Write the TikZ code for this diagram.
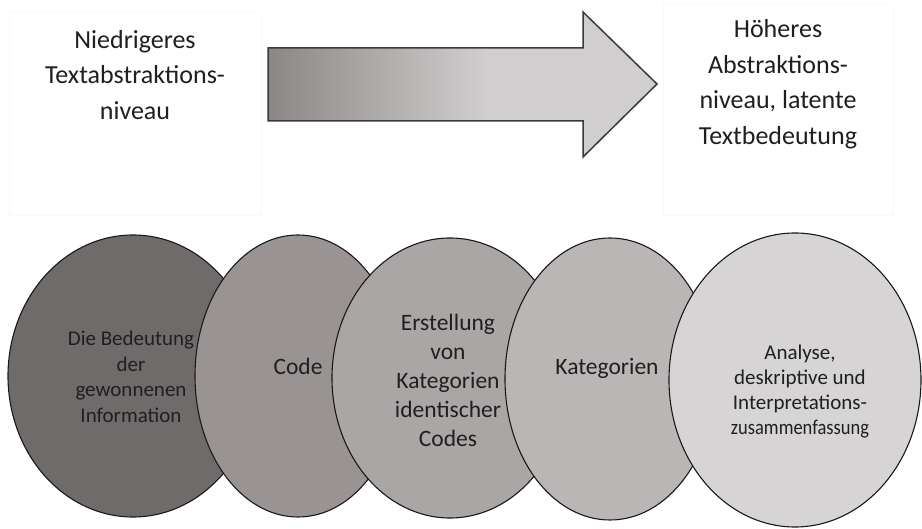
\documentclass[tikz,border=0pt]{standalone}
\usepackage{fontspec}
\setmainfont{Carlito}
\usetikzlibrary{shapes.geometric}

\definecolor{stageA}{HTML}{6F6B6B}
\definecolor{stageB}{HTML}{999493}
\definecolor{stageC}{HTML}{AAA6A5}
\definecolor{stageD}{HTML}{BAB6B6}
\definecolor{stageE}{HTML}{D6D4D5}
\definecolor{arrowdark}{HTML}{8C8787}
\definecolor{arrowlight}{HTML}{D0CECE}
\definecolor{arrowedge}{HTML}{3C3A3A}

\pgfdeclarehorizontalshading{arrowshade}{100bp}{color(0bp)=(arrowdark); color(25bp)=(arrowdark); color(53bp)=(arrowlight); color(100bp)=(arrowlight)}

\begin{document}
\begin{tikzpicture}[x=1pt,y=-1pt,
    sidebox/.style={draw=black!2.5,line width=0.8pt,inner sep=0pt},
    sidetext/.style={align=center,text=black!88,inner sep=0pt,font=\fontsize{26}{35.5}\selectfont},
    stage/.style={ellipse,draw=black!90,line width=1.1pt,inner sep=0pt},
    stagetext/.style={align=center,text=black!88,inner sep=0pt}]
  \useasboundingbox[fill=white] (0,0) rectangle (922,529);

  % the two levels beside the arrow
  \path (135,113) node[sidebox,minimum width=252,minimum height=204] (lowbox) {};
  \path (778,109) node[sidebox,minimum width=230,minimum height=212] (highbox) {};
  \path (135,75) node[sidetext] (low) {Niedrigeres\\Textabstraktions-\\niveau};
  \path (778,84) node[sidetext] (high) {Höheres\\Abstraktions-\\niveau, latente\\Textbedeutung};

  % the arrow
  \shadedraw[shading=arrowshade,draw=arrowedge,line width=1.5pt,line join=miter]
    (268,48) -- (583,48) -- (583,12) -- (657,84) -- (583,157) -- (583,121) -- (268,121) -- cycle;

  % the stages, each one over the one before
  \path (133,376) node[stage,fill=stageA,minimum width=250,minimum height=282] (bed) {};
  \path (298,376) node[stage,fill=stageB,minimum width=206,minimum height=282] (code) {};
  \path (450,378) node[stage,fill=stageC,minimum width=236,minimum height=280] (erst) {};
  \path (610,379) node[stage,fill=stageD,minimum width=210,minimum height=282] (kat) {};
  \path (795,380) node[stage,fill=stageE,minimum width=252,minimum height=294] (ana) {};

  \path (131,377) node[stagetext,font=\fontsize{21}{25.5}\selectfont] (bedt) {Die Bedeutung\\der\\gewonnenen\\Information};
  \path (298,366) node[stagetext,font=\fontsize{23.5}{29}\selectfont] (codet) {Code};
  \path (448,380) node[stagetext,font=\fontsize{23.5}{29}\selectfont] (erstt) {Erstellung\\von\\Kategorien\\identischer\\Codes};
  \path (607,368) node[stagetext,font=\fontsize{23.5}{29}\selectfont] (katt) {Kategorien};
  \path (800,392) node[stagetext,font=\fontsize{21}{25}\selectfont] (anat) {Analyse,\\deskriptive und\\Interpretations-\\\scalebox{0.88}[1]{zusammenfassung}};
\end{tikzpicture}
\end{document}
